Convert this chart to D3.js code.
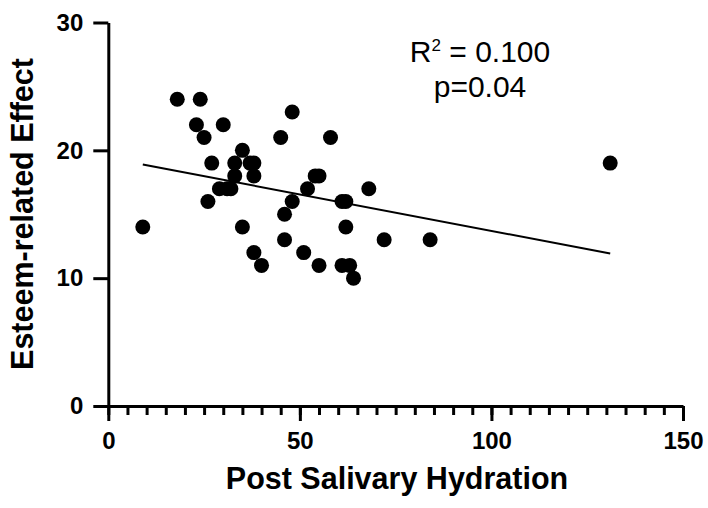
<!doctype html>
<html lang="en">
<head>
    <meta http-equiv="content-type" content="text/html; charset=utf-8" />
    <title>Esteem-related Effect vs Post Salivary Hydration</title>
    <style>
        html, body { margin: 0; padding: 0; background: #fff; }
        svg { display: block; font-family: "Liberation Sans", Arial, Helvetica, sans-serif; }
        .tick text { font-family: "Liberation Sans", Arial, sans-serif; font-size: 24px; font-weight: bold; fill: #000; }
    </style>
</head>
<body>
    <svg id="chart"></svg>

    <script src="https://cdn.jsdelivr.net/npm/d3@7/dist/d3.min.js"></script>

    <script>
        // values
        const hydration = [9, 18, 24, 23, 30, 25, 27, 26, 29, 31, 32, 33, 33, 35, 37, 38, 38, 35, 38, 40,
                           45, 48, 48, 46, 46, 51, 52, 54, 55, 58, 55, 61, 62, 62, 61, 63, 64, 68, 72, 84, 131];
        const esteem = [14, 24, 24, 22, 22, 21, 19, 16, 17, 17, 17, 19, 18, 20, 19, 19, 18, 14, 12, 11,
                        21, 23, 16, 15, 13, 12, 17, 18, 18, 21, 11, 16, 16, 14, 11, 11, 10, 17, 13, 13, 19];
        const xTicks = [0, 50, 100, 150];
        const xMinorTicks = d3.range(0, 151, 5);
        const yTicks = [0, 10, 20, 30];
        const xTitle = "Post Salivary Hydration";
        const yTitle = "Esteem-related Effect";
        const statR2 = "0.100";
        const statP = "p=0.04";

        renderChart();

        function renderChart() {
            const width = 708, height = 508;
            const svg = d3.select("#chart")
                .attr("width", width)
                .attr("height", height)
                .attr("viewBox", [0, 0, width, height]);

            const x = d3.scaleLinear().domain([0, 150]).range([108.3, 683]);
            const y = d3.scaleLinear().domain([0, 30]).range([406, 22.5]);

            const points = hydration.map((d, i) => ({x: d, y: esteem[i]}));

            // least squares fit, drawn over the range of the data
            const mx = d3.mean(points, d => d.x), my = d3.mean(points, d => d.y);
            const sxy = d3.sum(points, d => (d.x - mx) * (d.y - my));
            const sxx = d3.sum(points, d => (d.x - mx) * (d.x - mx));
            const slope = sxy / sxx, intercept = my - slope * mx;
            const [x0, x1] = d3.extent(points, d => d.x);

            // minor ticks on x first so the major ones draw on top
            svg.append("g")
                .attr("transform", `translate(0,${y(0)})`)
                .call(d3.axisBottom(x).tickValues(xMinorTicks).tickSize(9).tickFormat(""))
                .call(g => g.select(".domain").remove())
                .call(g => g.selectAll("line").attr("stroke-width", 3));

            const xAxis = svg.append("g")
                .attr("transform", `translate(0,${y(0)})`)
                .call(d3.axisBottom(x).tickValues(xTicks).tickSize(15).tickSizeOuter(0).tickPadding(11));

            const yAxis = svg.append("g")
                .attr("transform", `translate(${x(0)},0)`)
                .call(d3.axisLeft(y).tickValues(yTicks).tickSize(15).tickSizeOuter(0).tickPadding(10));

            [xAxis, yAxis].forEach(g => {
                g.select(".domain").attr("stroke-width", 3);
                g.selectAll(".tick line").attr("stroke-width", 3);
            });

            svg.append("line")
                .attr("x1", x(x0)).attr("y1", y(intercept + slope * x0))
                .attr("x2", x(x1)).attr("y2", y(intercept + slope * x1))
                .attr("stroke", "#000")
                .attr("stroke-width", 2);

            svg.append("g")
                .selectAll("circle")
                .data(points)
                .join("circle")
                .attr("cx", d => x(d.x))
                .attr("cy", d => y(d.y))
                .attr("r", 7.5)
                .attr("fill", "#000");

            svg.append("text")
                .attr("x", 397)
                .attr("y", 489)
                .attr("text-anchor", "middle")
                .style("font-size", "30.5px")
                .style("font-weight", "bold")
                .text(xTitle);

            svg.append("text")
                .attr("transform", `translate(33,214) rotate(-90)`)
                .attr("text-anchor", "middle")
                .style("font-size", "30.5px")
                .style("font-weight", "bold")
                .text(yTitle);

            const r2 = svg.append("text")
                .attr("x", 480)
                .attr("y", 61.5)
                .attr("text-anchor", "middle")
                .style("font-size", "30px");
            r2.append("tspan").text("R");
            r2.append("tspan").style("font-size", "17px").attr("dy", -11).text("2");
            r2.append("tspan").attr("dy", 11).text(" = " + statR2);

            svg.append("text")
                .attr("x", 480)
                .attr("y", 97)
                .attr("text-anchor", "middle")
                .style("font-size", "30px")
                .text(statP);
        }
    </script>
</body>
</html>
